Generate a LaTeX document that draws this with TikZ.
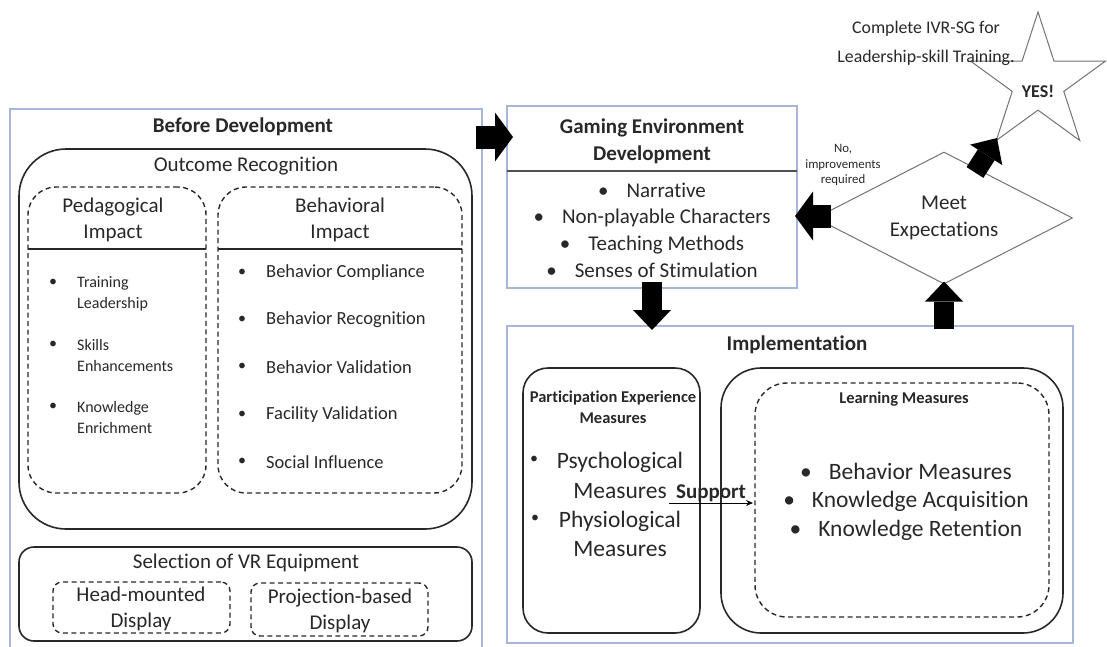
\documentclass[tikz,border=0pt]{standalone}
\usepackage{fontspec}
\setmainfont{Carlito}[Ligatures=NoCommon]
\usepackage{tikz}
\usetikzlibrary{calc}
\usetikzlibrary{shapes}
\usetikzlibrary{arrows.meta}
\definecolor{frameblue}{RGB}{165,182,218}
\definecolor{ink}{RGB}{40,40,40}
\definecolor{rim}{RGB}{115,115,115}
\newcommand{\sz}[2]{\fontsize{#1}{#2}\selectfont}
\newcommand{\dotitem}[3]{\node[bulletnode] (#1) at ( #2 , #3 ) {\textbullet};}
\tikzset{
  panel/.style={draw=frameblue, line width=1.3pt, inner sep=0pt, outer sep=0pt, anchor=north west},
  roundpanel/.style={draw=ink, line width=1.6pt, rounded corners=#1, inner sep=0pt, outer sep=0pt, anchor=north west},
  dashpanel/.style={draw=ink, line width=1.4pt, dash pattern=on 5pt off 3.5pt, rounded corners=#1, inner sep=0pt, outer sep=0pt, anchor=north west},
  lbl/.style={text=ink, inner sep=0pt, align=center},
  bulletnode/.style={text=ink, inner sep=0pt, font=\sz{16}{20}},
  fatarrow/.style={line width=23pt, -{Triangle[length=18pt, width=49pt, line width=0pt]}},
  blockarrow/.style={line width=20pt, -{Triangle[length=20pt, width=38pt, line width=0pt]}},
  thinarrow/.style={draw=black, line width=1pt, -{Stealth[length=7pt, width=6pt]}}
}

\begin{document}
\begin{tikzpicture}[x=1pt,y=-1pt]
\useasboundingbox (0,0) rectangle (1107,646);
% before development
\node[panel, minimum width=472pt, minimum height=550pt] (before) at (10,109) {};
\node[lbl, font=\bfseries\sz{21}{26}] (beforetitle) at (243,127) {Before Development};
\node[roundpanel=47pt, minimum width=453pt, minimum height=380pt] (outcome) at (19,149) {};
\node[lbl, font=\sz{21}{26}] (outcometitle) at (246,166) {Outcome Recognition};
\node[dashpanel=28pt, minimum width=178pt, minimum height=306pt] (pedbox) at (28,187) {};
\node[dashpanel=28pt, minimum width=244pt, minimum height=306pt] (behbox) at (218,187) {};
\draw[draw=ink, line width=1.6pt] ([shift={(0,62)}]pedbox.north west) -- ([shift={(0,62)}]pedbox.north east);
\draw[draw=ink, line width=1.6pt] ([shift={(0,62)}]behbox.north west) -- ([shift={(0,62)}]behbox.north east);
\node[lbl, font=\sz{21}{26}] (pedtitle) at (113,220) {Pedagogical\\Impact};
\node[lbl, font=\sz{21}{26}] (behtitle) at (340,220) {Behavioral\\Impact};
% pedagogical items
\dotitem{peddota}{53}{283}
\dotitem{peddotb}{53}{345}
\dotitem{peddotc}{53}{407}
\node[lbl, align=left, anchor=west, font=\sz{16}{21}] (peditema) at (77,293.5) {Training\\Leadership};
\node[lbl, align=left, anchor=west, font=\sz{16}{21}] (peditemb) at (77,355.5) {Skills\\Enhancements};
\node[lbl, align=left, anchor=west, font=\sz{16}{21}] (peditemc) at (77,417) {Knowledge\\Enrichment};
% behavioral items
\dotitem{behdota}{242}{273}
\dotitem{behdotb}{242}{320}
\dotitem{behdotc}{242}{367}
\dotitem{behdotd}{242}{415}
\dotitem{behdote}{242}{462}
\node[lbl, anchor=west, font=\sz{18.5}{22}] (behitema) at (266,273) {Behavior Compliance};
\node[lbl, anchor=west, font=\sz{18.5}{22}] (behitemb) at (266,320) {Behavior Recognition};
\node[lbl, anchor=west, font=\sz{18.5}{22}] (behitemc) at (266,367) {Behavior Validation};
\node[lbl, anchor=west, font=\sz{18.5}{22}] (behitemd) at (266,415) {Facility Validation};
\node[lbl, anchor=west, font=\sz{18.5}{22}] (behiteme) at (266,462) {Social Influence};
% vr equipment
\node[roundpanel=15pt, minimum width=453pt, minimum height=94pt] (vrbox) at (19,547) {};
\node[lbl, font=\sz{21}{26}] (vrtitle) at (246,563) {Selection of VR Equipment};
\node[dashpanel=9pt, minimum width=177pt, minimum height=51pt] (hmdbox) at (53,582) {};
\node[dashpanel=9pt, minimum width=177pt, minimum height=53pt] (projbox) at (251,583) {};
\node[lbl, font=\sz{21}{26}] (hmdlbl) at (141,609) {Head-mounted\\Display};
\node[lbl, font=\sz{21}{26}] (projlbl) at (340,611) {Projection-based\\Display};
% gaming environment
\node[panel, minimum width=290pt, minimum height=182pt] (gaming) at (507,106) {};
\draw[draw=rim!70!black, line width=2.2pt] ([shift={(0,65)}]gaming.north west) -- ([shift={(0,65)}]gaming.north east);
\node[lbl, font=\bfseries\sz{21}{27}] (gamingtitle) at (652,141.5) {Gaming Environment\\Development};
\node[lbl, font=\sz{21}{26.7}] (gamingitems) at (652,230) {\textbullet\hspace{18pt}Narrative\\\textbullet\hspace{18pt}Non-playable Characters\\\textbullet\hspace{18pt}Teaching Methods\\\textbullet\hspace{18pt}Senses of Stimulation};
% implementation
\node[panel, minimum width=566pt, minimum height=317pt] (impl) at (507,326) {};
\node[lbl, font=\bfseries\sz{21}{26}] (impltitle) at (797,345) {Implementation};
\node[roundpanel=25pt, minimum width=177pt, minimum height=265pt] (partbox) at (523,368) {};
\node[lbl, font=\bfseries\sz{16.5}{21}] (parttitle) at (613,407.5) {Participation Experience\\Measures};
\dotitem{psychdot}{534}{460}
\dotitem{physdot}{535}{519}
\node[lbl, font=\sz{23.5}{30}] (psychlbl) at (620,475) {Psychological\\Measures};
\node[lbl, font=\sz{23.5}{29}] (physlbl) at (620,533.5) {Physiological\\Measures};
\node[roundpanel=40pt, minimum width=342pt, minimum height=265pt] (learnbox) at (721,368) {};
\node[dashpanel=32pt, minimum width=294pt, minimum height=234pt] (learninner) at (755,383) {};
\node[lbl, font=\bfseries\sz{16.5}{21}] (learntitle) at (904,399) {Learning Measures};
\node[lbl, font=\sz{23.5}{28.5}] (learnitems) at (906,501.5) {\textbullet\hspace{17pt}Behavior Measures\\\textbullet\hspace{17pt}Knowledge Acquisition\\\textbullet\hspace{17pt}Knowledge Retention};
\draw[thinarrow] ($(partbox.east)+(-31,2.5)$) -- ($(learninner.west)+(-2,3)$) node[midway, above=1pt, lbl, font=\bfseries\sz{21}{26}] (supportlbl) {Support};
% decision and goal
\node[diamond, aspect=1.95, draw=rim, line width=1pt, minimum width=257pt, minimum height=132pt, lbl, font=\sz{21}{27}] (meet) at (944,218) {Meet\\Expectations};
\node[lbl, font=\sz{12.8}{15.5}] (noimp) at (843,165) {No,\\improvements\\required};
\node[star, star points=5, star point ratio=2.618, draw=rim, line width=1pt, minimum size=142pt, inner sep=0pt] (yes) at (1038,83) {};
\node[lbl, font=\bfseries\sz{18}{22}] (yeslbl) at (1038,91) {YES!};
\node[lbl, font=\sz{17.8}{29}] (complete) at (926,43) {Complete IVR-SG for\\Leadership-skill Training.};
% block arrows
\draw[fatarrow] ([shift={(-6,28)}]before.north east) -- ([shift={(6,31)}]gaming.north west);
\draw[blockarrow] ($(gaming.south)+(0,-6)$) -- ($(gaming.south |- impl.north)+(0,4)$);
\draw[blockarrow] ($(meet.south |- impl.north)+(0,3)$) -- ($(meet.south)+(0,-3)$);
\draw[fatarrow] ($(meet.west)+(16,-2)$) -- ($(gaming.east |- meet.west)+(-2,-2)$);
\draw[blockarrow] ($(meet.north)!0.24!(meet.east)+(0,5)$) -- ($(yes.center)+(-41,55)$);
\end{tikzpicture}
\end{document}
